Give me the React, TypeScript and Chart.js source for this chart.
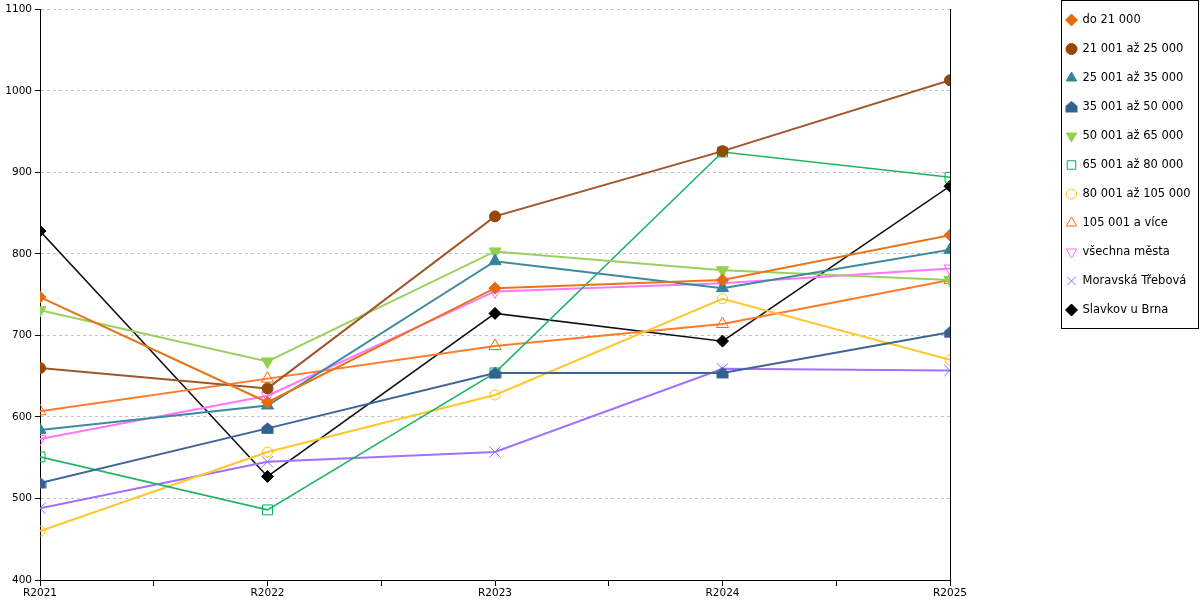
import React, { useEffect, useRef } from 'react'
import { Chart, registerables } from 'chart.js'
import { drawPoint } from 'chart.js/helpers'

Chart.register(...registerables)

const years = ['R2021', 'R2022', 'R2023', 'R2024', 'R2025']

const do21000 = [747, 618, 758, 768, 823]
const s21to25 = [660, 635, 846, 926, 1013]
const s25to35 = [584, 614, 791, 758, 805]
const s35to50 = [519, 586, 654, 654, 704]
const s50to65 = [731, 668, 803, 780, 768]
const s65to80 = [551, 486, 654, 925, 894]
const s80to105 = [460, 557, 627, 745, 670]
const s105plus = [607, 647, 687, 714, 768]
const allCities = [573, 626, 754, 764, 782]
const moravskaTrebova = [488, 545, 557, 659, 657]
const slavkov = [828, 527, 727, 693, 883]

const seriesNames = [
  'do 21 000',
  '21 001 až 25 000',
  '25 001 až 35 000',
  '35 001 až 50 000',
  '50 001 až 65 000',
  '65 001 až 80 000',
  '80 001 až 105 000',
  '105 001 a více',
  'všechna města',
  'Moravská Třebová',
  'Slavkov u Brna',
]

const FONT = '"DejaVu Sans", Verdana, sans-serif'

// "house" shaped marker used by the 35 001 až 50 000 series
const makeHouse = (color: string) => {
  const c = document.createElement('canvas')
  c.width = 13
  c.height = 13
  const ctx = c.getContext('2d')!
  ctx.fillStyle = color
  ctx.beginPath()
  ctx.moveTo(6.5, 0.5)
  ctx.lineTo(12.5, 5.5)
  ctx.lineTo(12.5, 12)
  ctx.lineTo(0.5, 12)
  ctx.lineTo(0.5, 5.5)
  ctx.closePath()
  ctx.fill()
  return c
}

// boxed legend on the right, drawn with the library's point helper
const boxLegend = {
  id: 'boxLegend',
  afterDraw(chart: any) {
    const ctx = chart.ctx
    const left = chart.width - 138.5
    const top = 0.5
    ctx.save()
    ctx.strokeStyle = '#000'
    ctx.lineWidth = 1
    ctx.strokeRect(left, top, 137, 328)
    ctx.font = `11.5px ${FONT}`
    ctx.textBaseline = 'middle'
    chart.data.datasets.forEach((ds: any, i: number) => {
      const y = 20 + i * 29
      ctx.fillStyle = ds.pointBackgroundColor
      ctx.strokeStyle = ds.pointBorderColor
      ctx.lineWidth = 1
      drawPoint(
        ctx,
        {
          pointStyle: ds.pointStyle,
          rotation: ds.pointRotation || 0,
          radius: Math.min(ds.pointRadius, 6),
          borderWidth: 1,
        },
        left + 10,
        y
      )
      ctx.fillStyle = '#000'
      ctx.fillText(ds.label, left + 21, y)
    })
    ctx.restore()
  },
}

const App = () => {
  const chartRef = useRef<HTMLCanvasElement | null>(null)

  useEffect(() => {
    document.body.style.margin = '0'
    if (!chartRef.current) return

    const values = [
      do21000, s21to25, s25to35, s35to50, s50to65, s65to80,
      s80to105, s105plus, allCities, moravskaTrebova, slavkov,
    ]
    const lineColors = [
      '#E8751A', '#A0562A', '#3C8A9E', '#3F6594', '#9BD05C', '#1DB463',
      '#FFC72C', '#FF7A2A', '#FF77FF', '#A070FF', '#111111',
    ]
    const markColors = [
      '#E46C0A', '#974706', '#31849B', '#376092', '#92D050', '#00B050',
      '#FFC000', '#FF6A13', '#FF66FF', '#9966FF', '#000000',
    ]
    const styles: any[] = [
      'rectRot', 'circle', 'triangle', makeHouse('#376092'), 'triangle', 'rect',
      'circle', 'triangle', 'triangle', 'crossRot', 'rectRot',
    ]
    const rotations = [0, 0, 0, 0, 180, 0, 0, 0, 180, 0, 0]
    const radii = [6, 5.5, 7, 6.5, 7, 7, 5, 7, 7, 8, 6]
    const open = [false, false, false, false, false, true, true, true, true, true, false]
    const widths = [2, 2, 2, 2, 2, 1.6, 2, 2, 2, 2, 1.5]

    const datasets = seriesNames.map((name, i) => ({
      label: name,
      data: values[i].map((v, j) => ({ x: j, y: v })),
      borderColor: lineColors[i],
      borderWidth: widths[i],
      pointStyle: styles[i],
      pointRotation: rotations[i],
      pointRadius: radii[i],
      pointBorderWidth: 1,
      pointBorderColor: markColors[i],
      pointBackgroundColor: open[i] ? 'rgba(255,255,255,0)' : markColors[i],
      tension: 0,
      fill: false,
    }))

    const chart = new Chart(chartRef.current, {
      type: 'line',
      data: { datasets },
      plugins: [boxLegend],
      options: {
        animation: false,
        responsive: true,
        maintainAspectRatio: false,
        layout: { padding: { top: 9, left: 0, right: 0, bottom: 0 } },
        plugins: {
          legend: { display: false },
          tooltip: { enabled: false },
        },
        scales: {
          x: {
            type: 'linear',
            min: 0,
            max: years.length - 1,
            afterFit: (scale: any) => {
              scale.height = 20
            },
            ticks: {
              stepSize: 0.5,
              autoSkip: false,
              maxRotation: 0,
              padding: 1,
              color: '#000',
              font: { family: FONT, size: 10.5 },
              callback: (v: any) => (Number.isInteger(v) ? years[v] : ''),
            },
            grid: {
              drawOnChartArea: false,
              drawTicks: true,
              tickLength: 6,
              tickColor: '#000',
            },
            border: { color: '#000', width: 1 },
          },
          y: {
            min: 400,
            max: 1100,
            afterFit: (scale: any) => {
              scale.width = 40
            },
            ticks: {
              stepSize: 100,
              padding: 3,
              color: '#000',
              font: { family: FONT, size: 10.5 },
              callback: (v: any) => String(v),
            },
            grid: {
              color: '#c4c4c4',
              tickColor: '#000',
              tickLength: 5,
            },
            border: { color: '#000', width: 1, dash: [3, 3] },
          },
          y2: {
            position: 'right',
            min: 400,
            max: 1100,
            afterFit: (scale: any) => {
              scale.width = 250
            },
            ticks: { display: false },
            grid: { drawOnChartArea: false, drawTicks: false },
            border: { color: '#000', width: 1 },
          },
        },
      },
    } as any)

    return () => chart.destroy()
  }, [])

  return (
    <div style={{ position: 'relative', width: 1200, height: 600 }}>
      <canvas ref={chartRef} />
    </div>
  )
}

export default App
